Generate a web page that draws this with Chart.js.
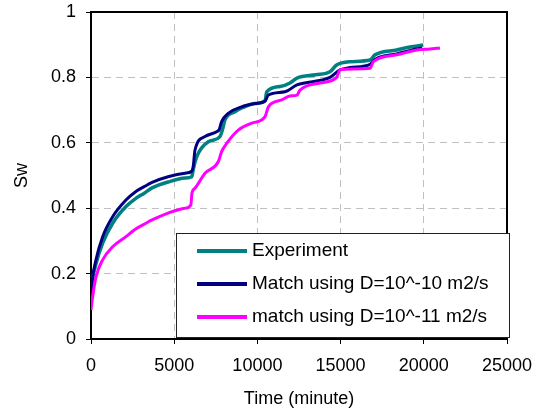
<!DOCTYPE html>
<html lang="en">
<head>
  <meta charset="UTF-8" />
  <title>Sw vs time</title>
  <script src="https://cdn.jsdelivr.net/npm/chart.js"></script>
  <style>
    body {
      margin: 0;
      background-color: #fff;
    }
    .wrap {
      width: 542px;
      height: 413px;
    }
  </style>
</head>
<body>

  <div class="wrap">
    <canvas id="swChart" width="542" height="413"></canvas>
  </div>

  <script>
    // values (time in minutes, Sw fraction)
    const timeExp = [0, 60, 300, 700, 1300, 2100, 2640, 3200, 3670, 4630, 5650, 6050, 6150, 6350, 7050, 7750, 7900, 8050, 8650, 9130, 9860, 10460, 10560, 11360, 11960, 12380, 13500, 14360, 14760, 15560, 16770, 17070, 18370, 19170, 19970];
    const swExp   = [0.13, 0.17, 0.23, 0.293, 0.354, 0.405, 0.428, 0.446, 0.462, 0.48, 0.492, 0.496, 0.52, 0.557, 0.603, 0.619, 0.64, 0.67, 0.695, 0.708, 0.72, 0.728, 0.756, 0.772, 0.783, 0.798, 0.808, 0.817, 0.838, 0.848, 0.853, 0.869, 0.884, 0.893, 0.899];

    const timeD10 = [0, 60, 300, 700, 1300, 2100, 2640, 3200, 3670, 4630, 5650, 6050, 6150, 6250, 6850, 7550, 7700, 7850, 8250, 9050, 9860, 10460, 10660, 11660, 12380, 14360, 14960, 15560, 16770, 17070, 18370, 19570, 19900];
    const swD10   = [0.12, 0.17, 0.242, 0.313, 0.374, 0.425, 0.449, 0.466, 0.479, 0.496, 0.507, 0.513, 0.53, 0.578, 0.619, 0.634, 0.64, 0.665, 0.69, 0.71, 0.72, 0.728, 0.746, 0.756, 0.777, 0.80, 0.823, 0.83, 0.84, 0.855, 0.872, 0.887, 0.89];

    const timeD11 = [0, 100, 300, 700, 1300, 2100, 2640, 3300, 3670, 4630, 5650, 6000, 6070, 6250, 6850, 7650, 7850, 8150, 8850, 9660, 10460, 10660, 11460, 11960, 12380, 12560, 13760, 14760, 14960, 15750, 16770, 16970, 18370, 19570, 20370, 20970];
    const swD11   = [0.089, 0.13, 0.19, 0.242, 0.282, 0.313, 0.335, 0.354, 0.364, 0.385, 0.40, 0.41, 0.447, 0.461, 0.507, 0.542, 0.573, 0.598, 0.639, 0.66, 0.68, 0.71, 0.731, 0.743, 0.746, 0.761, 0.783, 0.80, 0.823, 0.826, 0.828, 0.848, 0.869, 0.884, 0.887, 0.89];

    const seriesNames = ['Experiment', 'Match using D=10^-10 m2/s', 'match using D=10^-11 m2/s'];
    const xTicks = [0, 5000, 10000, 15000, 20000, 25000];
    const yTicks = [0, 0.2, 0.4, 0.6, 0.8, 1];

    const fontFam = '"Liberation Sans", Arial, sans-serif';

    function pts(xs, ys) {
      return xs.map((x, i) => ({x: x, y: ys[i]}));
    }

    // grid lines only inside, edges are the plot border
    function innerGrid(ticks) {
      return ctx => {
        const v = ctx.tick ? ctx.tick.value : null;
        if (v === ticks[0] || v === ticks[ticks.length - 1]) return 'rgba(0,0,0,0)';
        return '#c0c0c0';
      };
    }

    const plotBorder = {
      id: 'plotBorder',
      beforeDatasetsDraw(chart) {
        const a = chart.chartArea;
        const c = chart.ctx;
        c.save();
        c.strokeStyle = '#000';
        c.lineWidth = 2;
        c.strokeRect(a.left, a.top, a.right - a.left, a.bottom - a.top);
        c.restore();
      }
    };

    const boxLegend = {
      id: 'boxLegend',
      afterDraw(chart) {
        const a = chart.chartArea;
        const c = chart.ctx;
        const left = a.left + 85, top = a.bottom - 106;
        const w = 333, h = 104;
        c.save();
        c.fillStyle = '#fff';
        c.fillRect(left, top, w, h);
        c.strokeStyle = '#222';
        c.lineWidth = 1;
        c.strokeRect(left + 0.5, top + 0.5, w, h);
        chart.data.datasets.forEach((ds, i) => {
          const y = top + 18 + i * 33;
          c.strokeStyle = ds.borderColor;
          c.lineWidth = 4;
          c.beginPath();
          c.moveTo(left + 21, y);
          c.lineTo(left + 71, y);
          c.stroke();
          c.fillStyle = '#000';
          c.font = '19px ' + fontFam;
          c.textBaseline = 'middle';
          c.textAlign = 'left';
          c.fillText(ds.label, left + 76, y);
        });
        c.restore();
      }
    };

    new Chart(document.getElementById('swChart'), {
      type: 'line',
      data: {
        datasets: [{
          label: seriesNames[0],
          data: pts(timeExp, swExp),
          borderColor: '#008080',
          borderWidth: 3.5,
          order: 2
        }, {
          label: seriesNames[1],
          data: pts(timeD10, swD10),
          borderColor: '#000080',
          borderWidth: 3,
          order: 1
        }, {
          label: seriesNames[2],
          data: pts(timeD11, swD11),
          borderColor: '#ff00ff',
          borderWidth: 3,
          order: 0
        }]
      },
      options: {
        responsive: false,
        animation: false,
        parsing: false,
        elements: {
          point: { radius: 0 },
          line: { tension: 0.25, cubicInterpolationMode: 'monotone', fill: false }
        },
        layout: { padding: { top: 12, right: 35, bottom: 0, left: 0 } },
        plugins: {
          legend: { display: false },
          tooltip: { enabled: false }
        },
        scales: {
          x: {
            type: 'linear',
            min: xTicks[0],
            max: xTicks[xTicks.length - 1],
            afterFit: s => { s.height = 74; s.paddingLeft = 0; s.paddingRight = 0; },
            afterBuildTicks: s => { s.ticks = xTicks.map(v => ({value: v})); },
            ticks: {
              color: '#000',
              padding: 11,
              maxRotation: 0,
              font: { family: fontFam, size: 18 },
              callback: v => String(v)
            },
            grid: {
              color: innerGrid(xTicks),
              lineWidth: 1,
              tickColor: '#000',
              tickLength: 5,
              tickBorderDash: []
            },
            border: { display: true, color: '#000', width: 2, dash: [7, 5] },
            title: {
              display: true,
              text: 'Time (minute)',
              color: '#000',
              font: { family: fontFam, size: 18 },
              padding: { top: 0, bottom: 3 }
            }
          },
          y: {
            min: yTicks[0],
            max: yTicks[yTicks.length - 1],
            afterFit: s => { s.width = 91; s.paddingTop = 0; s.paddingBottom = 0; },
            afterBuildTicks: s => { s.ticks = yTicks.map(v => ({value: v})); },
            ticks: {
              color: '#000',
              padding: 10,
              font: { family: fontFam, size: 18 },
              callback: v => String(Math.round(v * 10) / 10)
            },
            grid: {
              color: innerGrid(yTicks),
              lineWidth: 1,
              tickColor: '#000',
              tickLength: 5,
              tickBorderDash: []
            },
            border: { display: true, color: '#000', width: 2, dash: [7, 5] },
            title: {
              display: true,
              text: 'Sw',
              color: '#000',
              font: { family: fontFam, size: 18 },
              padding: { top: 11, bottom: 0 }
            }
          }
        }
      },
      plugins: [plotBorder, boxLegend]
    });
  </script>
</body>
</html>
